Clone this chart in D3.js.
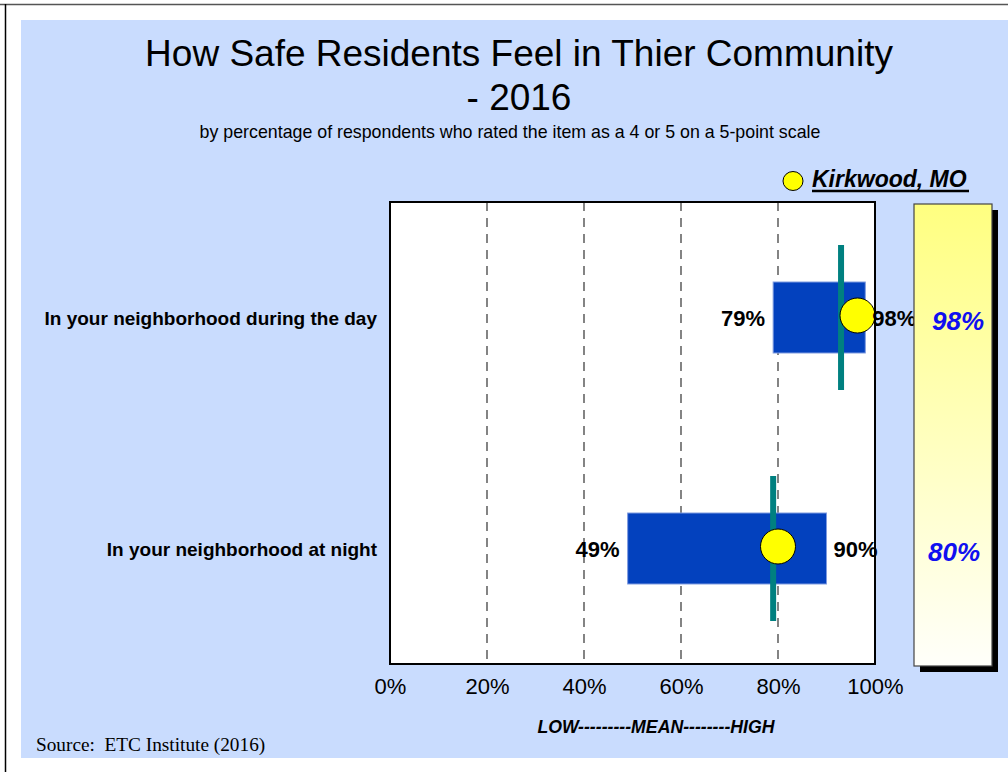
<!DOCTYPE html>
<html>
<head>
<meta charset="utf-8">
<script src="https://cdn.jsdelivr.net/npm/d3@7"></script>
<style>
  html, body { margin: 0; padding: 0; background: #ffffff; }
  svg { display: block; }
  text { font-family: Arial, "Liberation Sans", Helvetica, sans-serif; }
</style>
</head>
<body>
<svg id="chart" width="1008" height="772"></svg>
<script>
// Survey items and results (percent rating 4 or 5)
const categories = ["In your neighborhood during the day", "In your neighborhood at night"];
const lowValues = [79, 49];
const highValues = [98, 90];
const meanValues = [93, 79];
const kirkwoodValues = [98, 80];
const tickValues = [0, 20, 40, 60, 80, 100];

const svg = d3.select("#chart");

// page frame and panel
svg.append("line").attr("x1", 0).attr("x2", 1008).attr("y1", 4.5).attr("y2", 4.5)
  .attr("stroke", "#555").attr("stroke-width", 1.5);
svg.append("line").attr("x1", 5.5).attr("x2", 5.5).attr("y1", 4).attr("y2", 772)
  .attr("stroke", "#000").attr("stroke-width", 1.5);
svg.append("rect").attr("x", 21).attr("y", 20).attr("width", 987).attr("height", 738)
  .attr("fill", "#c9dcfe");

// titles
svg.append("text").attr("x", 519).attr("y", 66).attr("text-anchor", "middle")
  .attr("font-size", 37).attr("fill", "#000")
  .text("How Safe Residents Feel in Thier Community");
svg.append("text").attr("x", 519).attr("y", 110).attr("text-anchor", "middle")
  .attr("font-size", 37).attr("fill", "#000")
  .text("- 2016");
svg.append("text").attr("x", 510).attr("y", 138).attr("text-anchor", "middle")
  .attr("font-size", 17.8).attr("fill", "#000")
  .text("by percentage of respondents who rated the item as a 4 or 5 on a 5-point scale");

// scales
const plot = { left: 390, right: 875, top: 202, bottom: 664 };
const x = d3.scaleLinear().domain([0, 100]).range([plot.left, plot.right]);
const y = d3.scalePoint().domain(categories).range([plot.top, plot.bottom]).padding(0.5);

const barHeight = 71;
const meanHalf = 72.5;
const dotR = 17.5;

// plot background
svg.append("rect").attr("x", plot.left).attr("y", plot.top)
  .attr("width", plot.right - plot.left).attr("height", plot.bottom - plot.top)
  .attr("fill", "#fff");

// dashed gridlines
svg.append("g").selectAll("line")
  .data(tickValues.filter(d => d > 0 && d < 100))
  .join("line")
  .attr("x1", d => x(d)).attr("x2", d => x(d))
  .attr("y1", plot.top).attr("y2", plot.bottom)
  .attr("stroke", "#333").attr("stroke-width", 1.2)
  .attr("stroke-dasharray", "9,7");

const rows = categories.map((c, i) => ({
  cat: c, low: lowValues[i], high: highValues[i], mean: meanValues[i], kw: kirkwoodValues[i]
}));

// low-high range bars
svg.append("g").selectAll("rect")
  .data(rows)
  .join("rect")
  .attr("x", d => x(d.low))
  .attr("y", d => y(d.cat) - barHeight / 2)
  .attr("width", d => x(d.high) - x(d.low))
  .attr("height", barHeight)
  .attr("fill", "#0341be")
  .attr("stroke", "#7f9be0").attr("stroke-width", 1);

// mean markers
svg.append("g").selectAll("line")
  .data(rows)
  .join("line")
  .attr("x1", d => x(d.mean)).attr("x2", d => x(d.mean))
  .attr("y1", d => y(d.cat) - meanHalf).attr("y2", d => y(d.cat) + meanHalf)
  .attr("stroke", "#008080").attr("stroke-width", 6);

// Kirkwood dots (kept inside the plot frame)
svg.append("g").selectAll("circle")
  .data(rows)
  .join("circle")
  .attr("cx", d => Math.min(x(d.kw), plot.right - dotR))
  .attr("cy", d => y(d.cat) - 2)
  .attr("r", dotR)
  .attr("fill", "#ffff00").attr("stroke", "#000").attr("stroke-width", 1);

// plot frame
svg.append("rect").attr("x", plot.left).attr("y", plot.top)
  .attr("width", plot.right - plot.left).attr("height", plot.bottom - plot.top)
  .attr("fill", "none").attr("stroke", "#000").attr("stroke-width", 2);

// low / high labels
svg.append("g").selectAll("text")
  .data(rows)
  .join("text")
  .attr("x", d => x(d.low) - 8)
  .attr("y", d => y(d.cat) + 8.5)
  .attr("text-anchor", "end")
  .attr("font-size", 22).attr("font-weight", "bold")
  .text(d => d.low + "%");
svg.append("g").selectAll("text")
  .data(rows)
  .join("text")
  .attr("x", d => x(d.high) + 7)
  .attr("y", d => y(d.cat) + 8.5)
  .attr("text-anchor", "start")
  .attr("font-size", 22).attr("font-weight", "bold")
  .text(d => d.high + "%");

// category labels
svg.append("g").selectAll("text")
  .data(rows)
  .join("text")
  .attr("x", 377)
  .attr("y", d => y(d.cat) + 7.5)
  .attr("text-anchor", "end")
  .attr("font-size", 19).attr("font-weight", "bold")
  .text(d => d.cat);

// x axis
const axis = d3.axisBottom(x).tickValues(tickValues).tickSize(0).tickFormat(d => d + "%");
const gx = svg.append("g").attr("transform", `translate(0,${plot.bottom})`).call(axis);
gx.select(".domain").remove();
gx.selectAll("text")
  .attr("y", 30).attr("dy", null)
  .attr("font-size", 22).attr("fill", "#000")
  .style("font-family", "Arial, 'Liberation Sans', sans-serif");

svg.append("text").attr("x", 656).attr("y", 733).attr("text-anchor", "middle")
  .attr("font-size", 17.7).attr("font-weight", "bold").attr("font-style", "italic")
  .text("LOW---------MEAN--------HIGH");

// Kirkwood value panel
const defs = svg.append("defs");
const grad = defs.append("linearGradient").attr("id", "kwGrad")
  .attr("x1", 0).attr("y1", 0).attr("x2", 0).attr("y2", 1);
grad.append("stop").attr("offset", "0%").attr("stop-color", "#ffff80");
grad.append("stop").attr("offset", "100%").attr("stop-color", "#fffffa");

const panel = { left: 914, right: 992, top: 204, bottom: 666 };
svg.append("rect").attr("x", panel.left + 6).attr("y", panel.top + 6)
  .attr("width", panel.right - panel.left).attr("height", panel.bottom - panel.top)
  .attr("fill", "#000");
svg.append("rect").attr("x", panel.left).attr("y", panel.top)
  .attr("width", panel.right - panel.left).attr("height", panel.bottom - panel.top)
  .attr("fill", "url(#kwGrad)").attr("stroke", "#444").attr("stroke-width", 1.2);

svg.append("g").selectAll("text")
  .data(rows)
  .join("text")
  .attr("x", (d, i) => (panel.left + panel.right) / 2 + (i === 0 ? 5 : 1))
  .attr("y", d => y(d.cat) + 12)
  .attr("text-anchor", "middle")
  .attr("font-size", 26).attr("font-weight", "bold").attr("font-style", "italic")
  .attr("fill", "#1010f0")
  .text(d => d.kw + "%");

// legend
svg.append("ellipse").attr("cx", 793).attr("cy", 181).attr("rx", 10).attr("ry", 9.5)
  .attr("fill", "#ffff00").attr("stroke", "#000").attr("stroke-width", 1);
svg.append("text").attr("x", 812).attr("y", 187)
  .attr("font-size", 23).attr("font-weight", "bold").attr("font-style", "italic")
  .text("Kirkwood, MO");
svg.append("line").attr("x1", 812).attr("x2", 969).attr("y1", 191).attr("y2", 191)
  .attr("stroke", "#000").attr("stroke-width", 2.5);

// source note
svg.append("text").attr("x", 36).attr("y", 750.5)
  .attr("font-size", 19.3).style("font-family", "'Liberation Serif', 'Times New Roman', serif")
  .attr("xml:space", "preserve").style("white-space", "pre")
  .text("Source:  ETC Institute (2016)");
</script>
</body>
</html>
